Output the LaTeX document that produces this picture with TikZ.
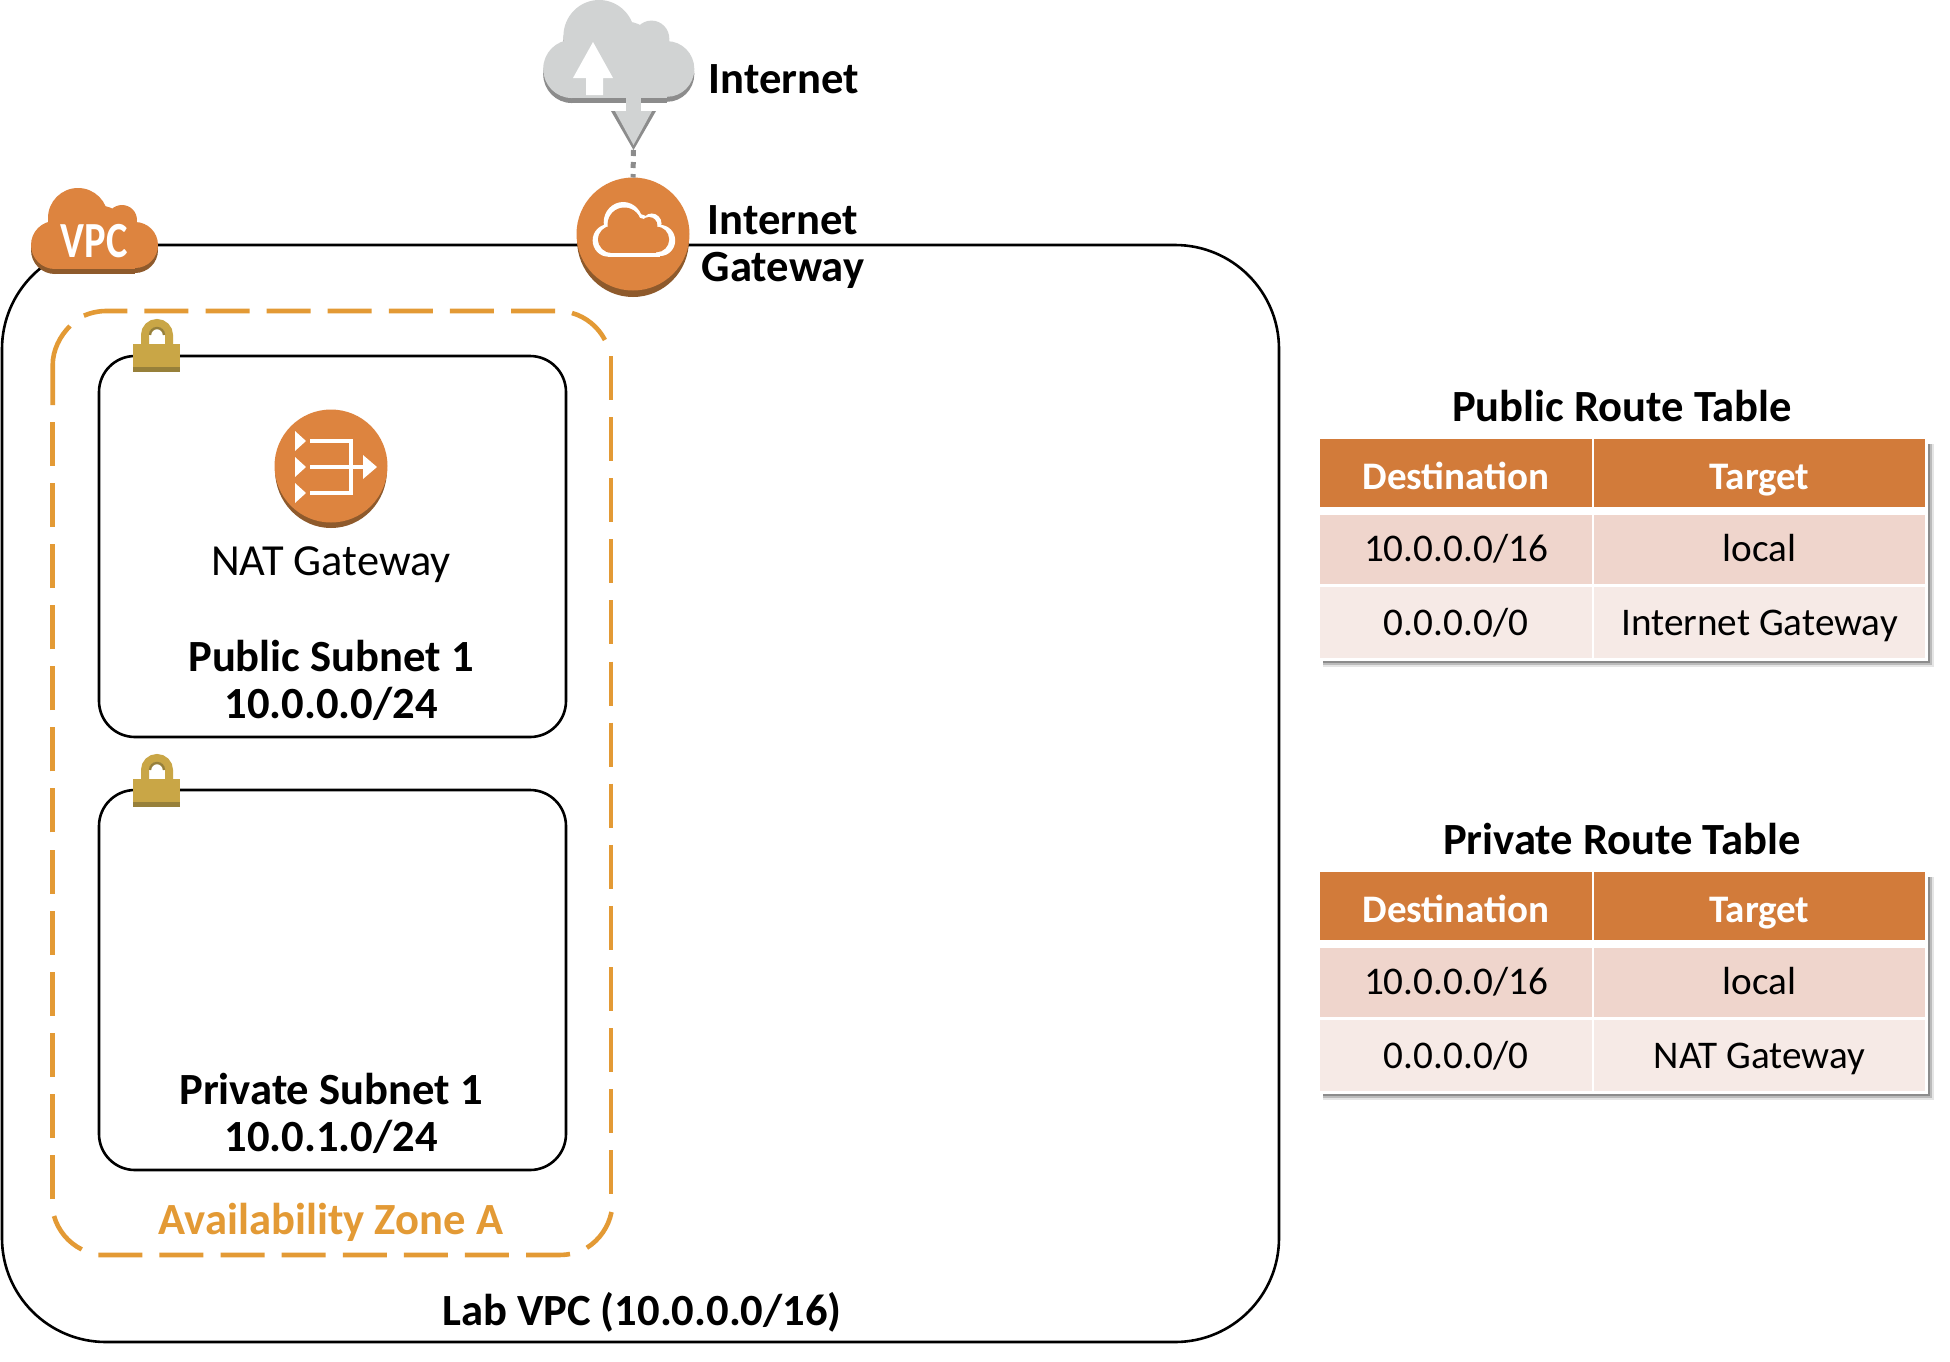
\documentclass[tikz,border=0pt]{standalone}
\usepackage{fontspec}
\usepackage{graphicx}
\setmainfont{Carlito}
\definecolor{awsorange}{HTML}{DD843F}
\definecolor{awsdark}{HTML}{8E5A2C}
\definecolor{azorange}{HTML}{E39A35}
\definecolor{lockgold}{HTML}{C9A646}
\definecolor{lockdark}{HTML}{97803A}
\definecolor{cloudgrey}{HTML}{D1D3D3}
\definecolor{clouddark}{HTML}{8C8C8C}
\definecolor{thead}{HTML}{D27B3A}
\definecolor{rowa}{HTML}{EFD5CC}
\definecolor{rowb}{HTML}{F6EAE6}
\tikzset{
  x=0.5pt,y=-0.5pt,
  box/.style={draw=black,line width=1.3pt,rounded corners=#1,inner sep=0pt,outer sep=0pt,fill=white},
  zonesolid/.style={draw=azorange,line width=2.3pt},
  zonedash/.style={zonesolid,dash pattern=on 22pt off 8.55pt},
  bl/.style={font=\fontsize{22.3}{23.5}\selectfont\bfseries,align=center,inner sep=0pt},
  rg/.style={font=\fontsize{22.2}{23.5}\selectfont,align=center,inner sep=0pt},
  cellbase/.style={inner sep=0pt,outer sep=0pt,anchor=north west,text height=16pt,text depth=4.2pt},
  hcell/.style={cellbase,fill=thead,text=white,font=\fontsize{19.5}{23}\selectfont\bfseries,text height=20.7pt,text depth=4.2pt},
  cellA/.style={cellbase,fill=rowa,font=\fontsize{19.6}{23}\selectfont},
  cellB/.style={cellbase,fill=rowb,font=\fontsize{19.6}{23}\selectfont,text height=17.5pt},
  iconlobes/.pic={
    \fill[pic actions] (48,30) circle[radius=30];
    \fill[pic actions] (92,32) circle[radius=15];
    \fill[pic actions] (72,40) circle[radius=22];
    \fill[pic actions] (25,57) circle[radius=24];
    \fill[pic actions] (105,57) circle[radius=23];
    \fill[pic actions] (25,30) rectangle (105,81);
  },
  padlock/.pic={
    \draw[lockgold,line width=4pt] (12,0) -- (12,-9) arc[start angle=180,end angle=360,radius=12] -- (36,0);
    \draw[lockdark,line width=1.2pt] (17,-9) arc[start angle=180,end angle=360,radius=7];
    \fill[lockgold] (0,0) rectangle (47,23);
    \fill[lockdark] (0,23) rectangle (47,28);
  },
}
\newcommand{\routetable}[3]{%
  \begin{scope}[shift={(0,#2)}]
    \fill[black,opacity=.10] (1323,444) rectangle (1934,667);
    \fill[black,opacity=.18] (1323,444) rectangle (1932,665);
    \fill[black,opacity=.25] (1323,444) rectangle (1930,663);
    \fill[white] (1317,436) rectangle (1928,661);
    \node[hcell,minimum width=136pt,minimum height=34pt] (#1h1) at (1320,439) {Destination};
    \node[hcell,minimum width=165.5pt,minimum height=34pt] (#1h2) at (1594,439) {Target};
    \node[cellA,minimum width=136pt,minimum height=34.5pt] (#1a1) at (1320,515) {10.0.0.0/16};
    \node[cellA,minimum width=165.5pt,minimum height=34.5pt] (#1a2) at (1594,515) {local};
    \node[cellB,minimum width=136pt,minimum height=35.5pt] (#1b1) at (1320,587) {0.0.0.0/0};
    \node[cellB,minimum width=165.5pt,minimum height=35.5pt] (#1b2) at (1594,587) {#3};
  \end{scope}%
}
\begin{document}
\begin{tikzpicture}
\useasboundingbox (0,0) rectangle (1950,1361);
\fill[white] (0,0) rectangle (1950,1361);

% containers
\node[box=52pt,minimum width=638.5pt,minimum height=548.5pt] (vpc) at (640.5,793.5) {};

% availability zone: dashed frame
\draw[zonedash] (52.7,1199) -- (52.7,422);
\draw[zonesolid] (52.7,405) -- (52.7,365) .. controls (52.7,350) and (60,336) .. (70,326);
\draw[zonedash] (555,311) -- (106,311) .. controls (98,311) and (90,313) .. (83,316);
\draw[zonesolid] (572,313) arc[start angle=-73.9,end angle=-27.5,radius=54];
\draw[zonedash] (611,356) -- (611,1194);
\draw[zonesolid] (611.5,1212) arc[start angle=11.3,end angle=57.8,radius=55];
\draw[zonedash] (570,1254) .. controls (565,1255) and (560,1255) .. (555,1255) -- (98,1255);
\draw[zonesolid] (54,1216) arc[start angle=164,end angle=116.6,radius=54];

\node[box=18pt,minimum width=233.5pt,minimum height=190.5pt] (pub) at (332.5,546.5) {};
\node[box=18pt,minimum width=233.5pt,minimum height=190pt] (priv) at (332.5,980) {};

% internet cloud
\pic[clouddark,xscale=1.19,yscale=1.21] at (542,5) {iconlobes};
\pic[cloudgrey,xscale=1.19,yscale=1.21] at (542,0) {iconlobes};
\fill[white] (593,42) -- (613,78) -- (603,78) -- (603,95) -- (586,95) -- (586,78) -- (573,78) -- cycle;
\fill[cloudgrey] (626,98) rectangle (641,113);
\fill[clouddark] (611,111) -- (656,111) -- (633.5,150) -- cycle;
\fill[cloudgrey] (615,111) -- (652,111) -- (633.5,145) -- cycle;
\coordinate (tip) at (633.5,150);

% internet gateway
\fill[awsdark] (633,240) ellipse[x radius=56,y radius=57];
\node[circle,fill=awsorange,inner sep=0pt,outer sep=0pt,minimum size=56.5pt] (igw) at (633,234) {};
\draw[clouddark,line width=2.5pt,dash pattern=on 3pt off 3pt] (tip) -- (igw.north);
\pic[white,xscale=.65,yscale=.675] at (592,202) {iconlobes};
\pic[awsorange,xscale=.56,yscale=.56] at (597.5,207.5) {iconlobes};

% VPC cloud
\pic[awsdark] at (30,193) {iconlobes};
\pic[awsorange] at (30,188) {iconlobes};
\node[text=white,font=\fontsize{22}{24}\selectfont\bfseries,inner sep=0pt] (vpclabel) at (94,241) {\scalebox{.92}[1.15]{VPC}};

% locks
\pic at (133,344) {padlock};
\pic at (133,779) {padlock};

% NAT icon
\fill[awsdark] (331,470) ellipse[x radius=56,y radius=58];
\node[circle,fill=awsorange,inner sep=0pt,outer sep=0pt,minimum size=56.5pt] (nat) at (331,466) {};
\fill[white] (295,431) -- (306,441) -- (295,451) -- cycle;
\fill[white] (295,457) -- (306,467) -- (295,477) -- cycle;
\fill[white] (295,483) -- (306,493) -- (295,503) -- cycle;
\draw[white,line width=2pt] (310,441) -- (351,441) -- (351,493) -- (310,493);
\draw[white,line width=2pt] (310,467) -- (366,467);
\fill[white] (363,455) -- (377,467) -- (363,479) -- cycle;

% labels
\node[bl] (inetlabel) at (784,79) {Internet};
\node[bl] (igwlabel) at (783,247) {Internet\\Gateway};
\node[rg] (natlabel) at (331,565) {NAT Gateway};
\node[bl] (publabel) at (331,680) {Public Subnet 1\\10.0.0.0/24};
\node[bl] (privlabel) at (331,1113) {Private Subnet 1\\10.0.1.0/24};
\node[bl,text=azorange] (azlabel) at (331,1222) {Availability Zone A};
\node[bl] (vpcname) at (642,1312) {Lab VPC (10.0.0.0/16)};

% tables
\node[bl] (pubtitle) at (1622,406) {Public Route Table};
\routetable{pt}{0}{Internet Gateway}
\node[bl] (privtitle) at (1622,839) {Private Route Table};
\routetable{vt}{433}{NAT Gateway}
\end{tikzpicture}
\end{document}
